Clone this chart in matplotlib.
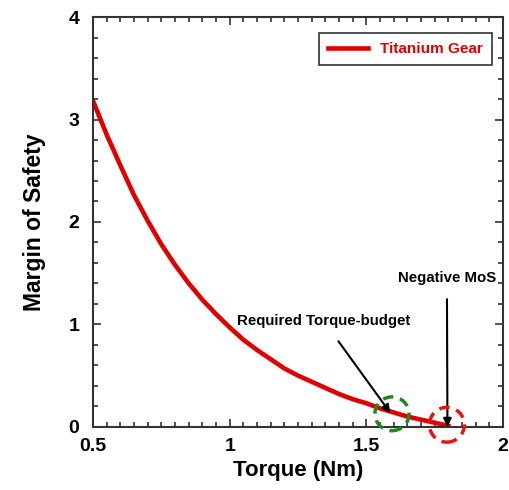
import matplotlib
matplotlib.use("Agg")
import matplotlib.pyplot as plt
from matplotlib.patches import Ellipse
from matplotlib.ticker import MultipleLocator

plt.rcParams["font.family"] = ["Liberation Sans", "DejaVu Sans"]
plt.rcParams["font.weight"] = "bold"

# Torque (Nm) vs margin of safety
torque = [0.50, 0.55, 0.60, 0.65, 0.70, 0.75, 0.80, 0.85, 0.90, 0.95,
          1.00, 1.05, 1.10, 1.15, 1.20, 1.25, 1.30, 1.35, 1.40, 1.45,
          1.50, 1.55, 1.60, 1.65, 1.70, 1.75, 1.80]
mos = [3.18, 2.85, 2.55, 2.26, 2.01, 1.78, 1.58, 1.40, 1.24, 1.10,
       0.97, 0.85, 0.75, 0.66, 0.57, 0.50, 0.44, 0.38, 0.32, 0.27,
       0.23, 0.18, 0.14, 0.10, 0.07, 0.04, 0.01]

budget_pt = (1.594, 0.127)
negative_pt = (1.795, 0.02)

fig = plt.figure(figsize=(5.09, 4.9), dpi=100)
ax = fig.add_axes([0.183, 0.129, 0.805, 0.836])

ax.plot(torque, mos, color="#e00000", lw=3.3, label="Titanium Gear")

# dashed highlight circles
ax.add_patch(Ellipse(budget_pt, 0.125, 0.33, fill=False, ec="#1a8a1a",
                     ls=(0, (3, 2)), lw=2.5, zorder=4, clip_on=False))
ax.add_patch(Ellipse(negative_pt, 0.128, 0.34, fill=False, ec="#ee1111",
                     ls=(0, (3, 2)), lw=2.5, zorder=4, clip_on=False))

ax.annotate("Required Torque-budget", xy=(1.588, 0.135), xytext=(1.345, 1.03),
            ha="center", va="center", fontsize=10.8, fontweight="bold",
            arrowprops=dict(arrowstyle="-|>", color="black", lw=1.5,
                            shrinkA=9, shrinkB=0, mutation_scale=12))
ax.annotate("Negative MoS", xy=(1.797, 0.0), xytext=(1.795, 1.45),
            ha="center", va="center", fontsize=10.8, fontweight="bold",
            arrowprops=dict(arrowstyle="-|>", color="black", lw=1.5,
                            shrinkA=8, shrinkB=0, mutation_scale=12))

ax.set_xlim(0.5, 2)
ax.set_ylim(0, 4)
ax.set_xticks([0.5, 1, 1.5, 2])
ax.set_xticklabels(["0.5", "1", "1.5", "2"])
ax.set_yticks([0, 1, 2, 3, 4])
ax.xaxis.set_minor_locator(MultipleLocator(0.05))
ax.yaxis.set_minor_locator(MultipleLocator(0.2))
ax.tick_params(which="both", direction="in", top=True, right=True,
               color="#333333", width=1.2, labelsize=14)
ax.tick_params(which="major", length=6)
ax.tick_params(which="minor", length=3.5)
ax.tick_params(axis="x", which="major", pad=8)
ax.tick_params(axis="y", which="major", pad=10)
for lab in ax.get_xticklabels() + ax.get_yticklabels():
    lab.set_fontweight("bold")
for sp in ax.spines.values():
    sp.set_color("#333333")
    sp.set_linewidth(1.5)

ax.set_xlabel("Torque (Nm)", fontsize=16, fontweight="bold", labelpad=4)
ax.set_ylabel("Margin of Safety", fontsize=16.5, fontweight="bold", labelpad=16)

leg = ax.legend(loc="upper right", fontsize=11, frameon=True, fancybox=False,
                handlelength=2.6, borderpad=0.6, borderaxespad=0,
                bbox_to_anchor=(0.973, 0.961))
leg.get_frame().set_edgecolor("black")
leg.get_frame().set_linewidth(1.2)
for t in leg.get_texts():
    t.set_color("#e00000")
    t.set_fontweight("bold")

fig.savefig("out.png", dpi=100)
